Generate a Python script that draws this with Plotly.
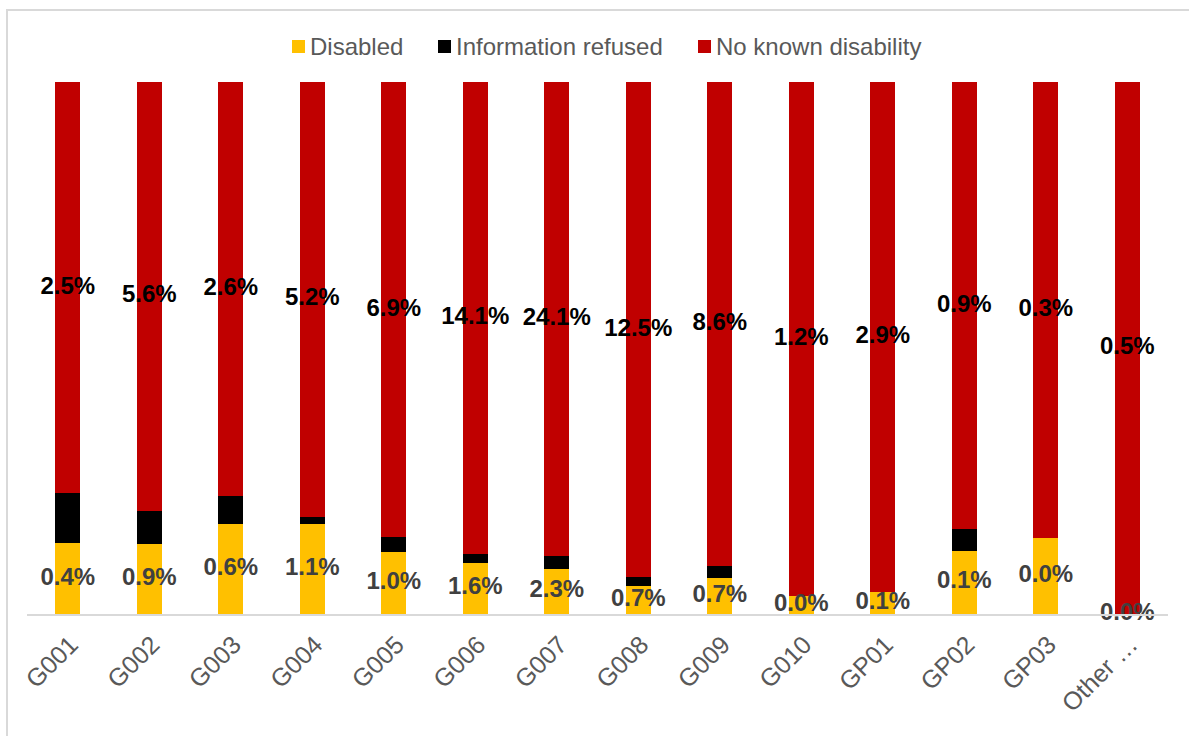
import plotly.graph_objects as go

# Stacked share of each group by disability status (percent of the group)
categories = ["G001", "G002", "G003", "G004", "G005", "G006", "G007",
              "G008", "G009", "G010", "GP01", "GP02", "GP03", "Other …"]
disabled = [13.3, 13.1, 17.0, 16.9, 11.7, 9.6, 8.5, 5.3, 6.7, 3.4, 4.2, 11.9, 14.2, 0.0]
info_refused = [9.4, 6.3, 5.2, 1.4, 2.7, 1.6, 2.4, 1.6, 2.3, 0.0, 0.0, 4.0, 0.0, 0.0]
no_known = [100 - d - r for d, r in zip(disabled, info_refused)]

# Share of overall headcount, shown on the segments
disabled_labels = ["0.4%", "0.9%", "0.6%", "1.1%", "1.0%", "1.6%", "2.3%",
                   "0.7%", "0.7%", "0.0%", "0.1%", "0.1%", "0.0%", "0.0%"]
no_known_labels = ["2.5%", "5.6%", "2.6%", "5.2%", "6.9%", "14.1%", "24.1%",
                   "12.5%", "8.6%", "1.2%", "2.9%", "0.9%", "0.3%", "0.5%"]

series_names = ["Disabled", "Information refused", "No known disability"]
series_colors = ["#FFC000", "#000000", "#C00000"]

FONT = "Liberation Sans, Arial, sans-serif"
GREY_TEXT = "#595959"

fig = go.Figure()
for name, vals, col in zip(series_names, [disabled, info_refused, no_known], series_colors):
    fig.add_bar(x=categories, y=vals, name=name, marker_color=col,
                marker_line_width=0, showlegend=False)

# Labels centred in their segments
dis_mid = [d / 2 for d in disabled]
nk_mid = [d + r + n / 2 for d, r, n in zip(disabled, info_refused, no_known)]
fig.add_scatter(x=categories, y=dis_mid, mode="text", text=disabled_labels,
                textfont=dict(family=FONT, size=24, color="#404040"),
                showlegend=False, hoverinfo="skip", cliponaxis=False,
                texttemplate="<b>%{text}</b>")
fig.add_scatter(x=categories, y=nk_mid, mode="text", text=no_known_labels,
                textfont=dict(family=FONT, size=24, color="#000000"),
                showlegend=False, hoverinfo="skip", cliponaxis=False,
                texttemplate="<b>%{text}</b>")

L, R, T, B = 27, 21, 82, 122
W, H = 1189, 736
pw, ph = W - L - R, H - T - B


def px_x(x):
    return (x - L) / pw


def px_y(y):
    return (H - B - y) / ph


# Legend row across the top: swatch followed by its label
shapes = [dict(type="rect", xref="paper", yref="paper",
               x0=px_x(7), x1=px_x(1195), y0=px_y(740), y1=px_y(10),
               line=dict(color="#D9D9D9", width=2), fillcolor="rgba(0,0,0,0)",
               layer="below")]
annotations = []
legend_x = [292, 438, 698]
for lx, name, col in zip(legend_x, series_names, series_colors):
    shapes.append(dict(type="rect", xref="paper", yref="paper",
                       x0=px_x(lx), x1=px_x(lx + 13), y0=px_y(53), y1=px_y(40),
                       line_width=0, fillcolor=col))
    annotations.append(dict(xref="paper", yref="paper", x=px_x(lx + 16), y=px_y(47),
                            xanchor="left", yanchor="middle", showarrow=False,
                            text=name, font=dict(family=FONT, size=24, color=GREY_TEXT)))

fig.update_layout(
    width=W, height=H,
    margin=dict(l=L, r=R, t=T, b=B),
    barmode="stack", bargap=0.69,
    plot_bgcolor="white", paper_bgcolor="white",
    font=dict(family=FONT, color=GREY_TEXT),
    showlegend=False,
    xaxis=dict(tickangle=-45, tickfont=dict(family=FONT, size=25, color=GREY_TEXT),
               showline=True, linecolor="#D9D9D9", linewidth=2,
               ticklabelstandoff=4, ticklabelshift=3,
               ticks="", showgrid=False, range=[-0.5, 13.5]),
    yaxis=dict(range=[0, 100], visible=False, showgrid=False),
    shapes=shapes,
    annotations=annotations,
)

fig.write_html("out.html")
